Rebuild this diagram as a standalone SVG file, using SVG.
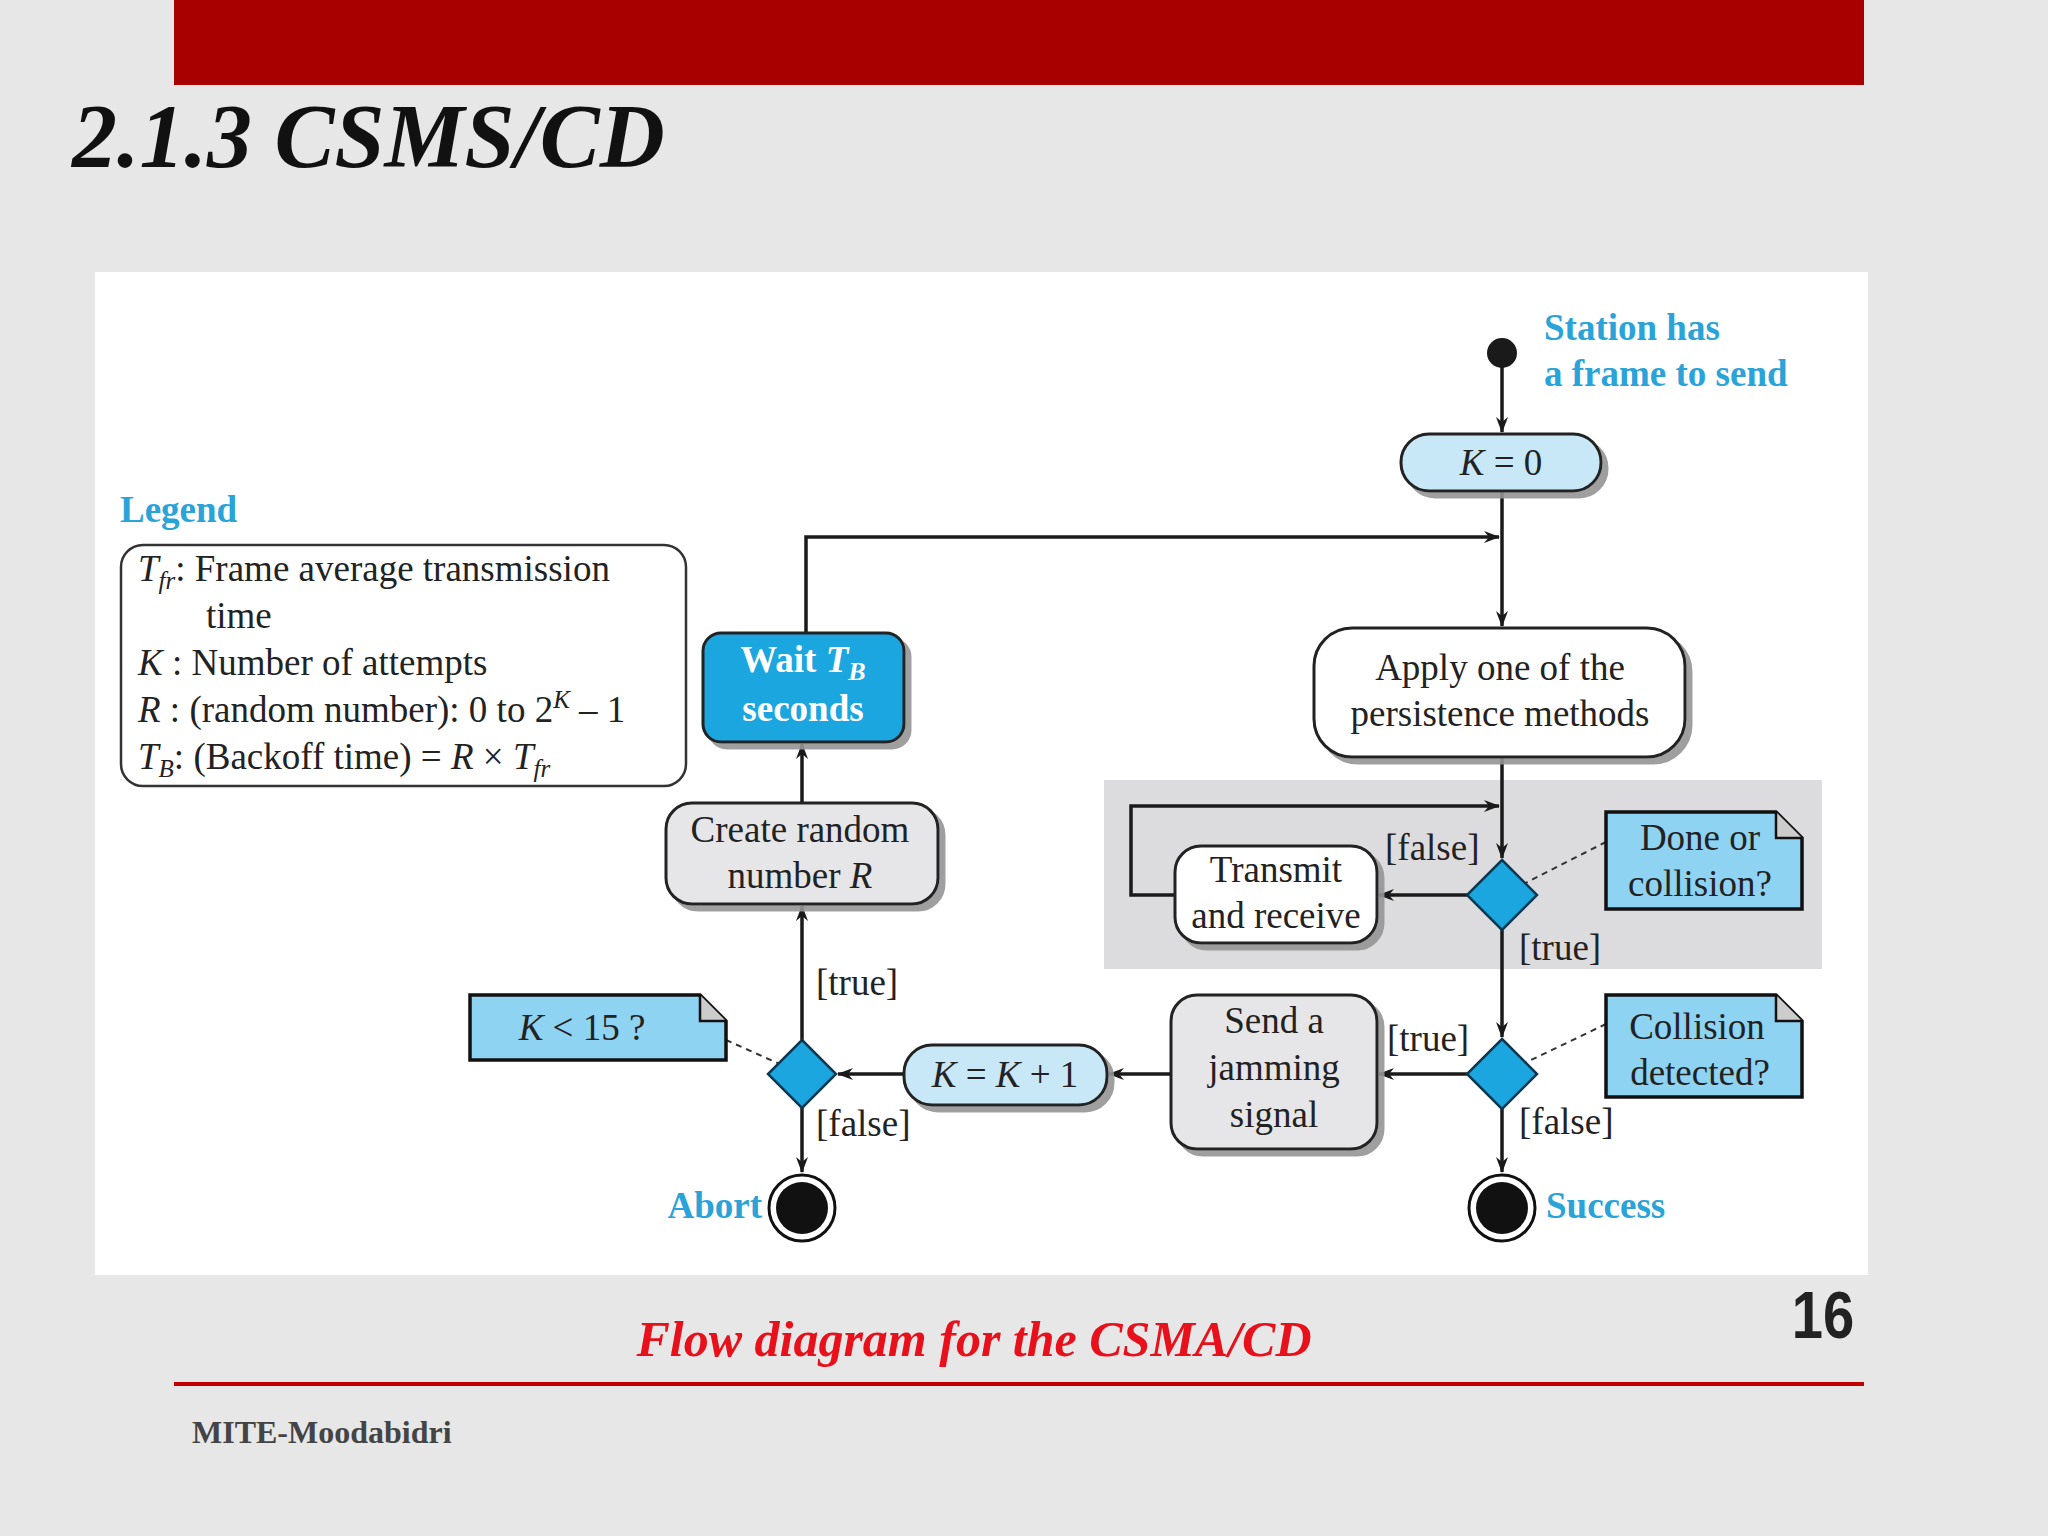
<svg xmlns="http://www.w3.org/2000/svg" width="2048" height="1536" viewBox="0 0 2048 1536">
<defs>
<marker id="ah" markerWidth="16" markerHeight="12" refX="15" refY="6" orient="auto" markerUnits="userSpaceOnUse">
<path d="M0,0 L16,6 L0,12 L5,6 Z" fill="#1a1a1a"/>
</marker>
<filter id="sh" x="-10%" y="-10%" width="130%" height="130%"><feOffset dx="6" dy="6" in="SourceAlpha" result="o"/><feColorMatrix in="o" type="matrix" values="0 0 0 0 0.3  0 0 0 0 0.3  0 0 0 0 0.3  0 0 0 0.9 0"/><feMerge><feMergeNode/><feMergeNode in="SourceGraphic"/></feMerge></filter>
</defs>
<style>
.t{font-family:"Liberation Serif","Times New Roman",serif;font-size:37px;fill:#222}
.c{text-anchor:middle}
.i{font-style:italic}
.b{font-weight:bold}
.blue{fill:#2aa3d8;font-weight:bold}
.box{stroke:#222;stroke-width:3}
.ln{stroke:#1a1a1a;stroke-width:3.5;fill:none}
.dsh{stroke:#333;stroke-width:2;stroke-dasharray:6 5;fill:none}
.note{fill:#8fd3f2;stroke:#111;stroke-width:3.5}
.dia{fill:#1ba6e0;stroke:#0b3850;stroke-width:2.5}
</style>
<rect width="2048" height="1536" fill="#e7e7e8"/>
<rect x="174" y="0" width="1690" height="85" fill="#a80000"/>
<text x="72" y="167" font-family="Liberation Serif, serif" font-size="90" font-weight="bold" font-style="italic" fill="#111">2.1.3 CSMS/CD</text>
<rect x="95" y="272" width="1773" height="1003" fill="#ffffff"/>
<rect x="1104" y="780" width="718" height="189" fill="#dcdcde"/>

<g id="connectors">
<path class="ln" d="M1502,353 V432" marker-end="url(#ah)"/>
<path class="ln" d="M1502,491 V626" marker-end="url(#ah)"/>
<path class="ln" d="M806,633 V537 H1499" marker-end="url(#ah)"/>
<path class="ln" d="M1502,757 V858" marker-end="url(#ah)"/>
<path class="ln" d="M1467,895 H1379" marker-end="url(#ah)"/>
<path class="ln" d="M1175,895 H1131 V806 H1499" marker-end="url(#ah)"/>
<path class="ln" d="M1502,930 V1037" marker-end="url(#ah)"/>
<path class="ln" d="M1467,1074 H1379" marker-end="url(#ah)"/>
<path class="ln" d="M1171,1074 H1109" marker-end="url(#ah)"/>
<path class="ln" d="M904,1074 H838" marker-end="url(#ah)"/>
<path class="ln" d="M802,1040 V906" marker-end="url(#ah)"/>
<path class="ln" d="M802,803 V744" marker-end="url(#ah)"/>
<path class="ln" d="M1502,1109 V1172" marker-end="url(#ah)"/>
<path class="ln" d="M802,1108 V1172" marker-end="url(#ah)"/>
<path class="dsh" d="M1606,842 L1502,895"/>
<path class="dsh" d="M1606,1024 L1502,1074"/>
<path class="dsh" d="M726,1040 L802,1074"/>
<text class="t" x="1385" y="860">[false]</text>
<text class="t" x="1519" y="960">[true]</text>
<text class="t" x="1387" y="1051">[true]</text>
<text class="t" x="1519" y="1134">[false]</text>
<text class="t" x="816" y="995">[true]</text>
<text class="t" x="816" y="1136">[false]</text>
</g>

<g id="start"><circle cx="1502" cy="353" r="15" fill="#1a1a1a"/>
<text class="t blue" x="1544" y="340">Station has</text>
<text class="t blue" x="1544" y="386">a frame to send</text></g>

<g id="k0"><rect class="box" x="1401" y="434" width="200" height="57" rx="28" fill="#c8e8f7" filter="url(#sh)"/>
<text class="t c" x="1501" y="475"><tspan class="i">K</tspan> = 0</text></g>

<g id="apply"><rect class="box" x="1314" y="628" width="371" height="129" rx="38" fill="#fff" filter="url(#sh)"/>
<text class="t c" x="1500" y="680">Apply one of the</text>
<text class="t c" x="1500" y="726">persistence methods</text></g>

<g id="wait"><rect class="box" x="703" y="633" width="201" height="109" rx="18" fill="#1ba6e0" filter="url(#sh)"/>
<text class="t c b" x="803" y="672" style="fill:#fff">Wait <tspan class="i">T</tspan><tspan class="i" font-size="26" dy="8">B</tspan></text>
<text class="t c b" x="803" y="721" style="fill:#fff">seconds</text></g>

<g id="create"><rect class="box" x="666" y="803" width="272" height="101" rx="26" fill="#e6e6e8" filter="url(#sh)"/>
<text class="t c" x="800" y="842">Create random</text>
<text class="t c" x="800" y="888">number <tspan class="i">R</tspan></text></g>

<g id="transmit"><rect class="box" x="1175" y="846" width="202" height="97" rx="26" fill="#fff" filter="url(#sh)"/>
<text class="t c" x="1276" y="882">Transmit</text>
<text class="t c" x="1276" y="928">and receive</text></g>

<g id="d1"><path class="dia" d="M1502,860 L1537,895 L1502,930 L1467,895 Z"/></g>
<g id="n1"><path class="note" d="M1606,812 H1776 L1802,838 V909 H1606 Z"/><path d="M1776,812 V838 H1802" fill="#ccc" stroke="#111" stroke-width="2.5"/>
<text class="t c" x="1700" y="850">Done or</text><text class="t c" x="1700" y="896">collision?</text></g>

<g id="d2"><path class="dia" d="M1502,1039 L1537,1074 L1502,1109 L1467,1074 Z"/></g>
<g id="n2"><path class="note" d="M1606,995 H1776 L1802,1021 V1097 H1606 Z"/><path d="M1776,995 V1021 H1802" fill="#ccc" stroke="#111" stroke-width="2.5"/>
<text class="t c" x="1697" y="1039">Collision</text><text class="t c" x="1700" y="1085">detected?</text></g>

<g id="success"><circle cx="1502" cy="1208" r="33" fill="#fff" stroke="#111" stroke-width="3"/><circle cx="1502" cy="1208" r="26" fill="#111"/>
<text class="t blue" x="1546" y="1218">Success</text></g>

<g id="jam"><rect class="box" x="1171" y="995" width="206" height="154" rx="26" fill="#e6e6e8" filter="url(#sh)"/>
<text class="t c" x="1274" y="1033">Send a</text><text class="t c" x="1274" y="1080">jamming</text><text class="t c" x="1274" y="1127">signal</text></g>

<g id="kinc"><rect class="box" x="904" y="1045" width="203" height="60" rx="28" fill="#c8e8f7" filter="url(#sh)"/>
<text class="t c" x="1005" y="1087"><tspan class="i">K</tspan> = <tspan class="i">K</tspan> + 1</text></g>

<g id="d3"><path class="dia" d="M802,1040 L836,1074 L802,1108 L768,1074 Z"/></g>
<g id="n3"><path class="note" d="M470,995 H700 L726,1021 V1060 H470 Z"/><path d="M700,995 V1021 H726" fill="#ccc" stroke="#111" stroke-width="2.5"/>
<text class="t c" x="582" y="1040"><tspan class="i">K</tspan> &lt; 15 ?</text></g>

<g id="abort"><circle cx="802" cy="1208" r="33" fill="#fff" stroke="#111" stroke-width="3"/><circle cx="802" cy="1208" r="26" fill="#111"/>
<text class="t blue" x="762" y="1218" text-anchor="end">Abort</text></g>

<g id="legend">
<text class="t blue" x="120" y="522">Legend</text>
<rect x="121" y="545" width="565" height="241" rx="22" fill="#fff" stroke="#333" stroke-width="2.5"/>
<text class="t" x="138" y="581" font-size="38"><tspan class="i">T</tspan><tspan class="i" font-size="25" dy="8">fr</tspan><tspan dy="-8">: Frame average transmission</tspan></text>
<text class="t" x="206" y="628" font-size="38">time</text>
<text class="t" x="138" y="675" font-size="38"><tspan class="i">K</tspan> : Number of attempts</text>
<text class="t" x="138" y="722" font-size="38"><tspan class="i">R</tspan> : (random number): 0 to 2<tspan font-size="25" dy="-14" class="i">K</tspan><tspan dy="14"> – 1</tspan></text>
<text class="t" x="138" y="769" font-size="38"><tspan class="i">T</tspan><tspan class="i" font-size="25" dy="8">B</tspan><tspan dy="-8">: (Backoff time) = </tspan><tspan class="i">R</tspan> × <tspan class="i">T</tspan><tspan class="i" font-size="25" dy="8">fr</tspan></text>
</g>

<text x="974" y="1356" text-anchor="middle" font-family="Liberation Serif, serif" font-size="50" font-weight="bold" font-style="italic" fill="#e8101a">Flow diagram for the CSMA/CD</text>
<text x="1823" y="1338" text-anchor="middle" font-family="Liberation Sans Narrow, Liberation Sans, sans-serif" font-size="66" font-weight="bold" fill="#222" transform="translate(1823 0) scale(0.85 1) translate(-1823 0)">16</text>
<rect x="174" y="1382" width="1690" height="4" fill="#c00000"/>
<text x="192" y="1443" font-family="Liberation Serif, serif" font-size="32" font-weight="bold" fill="#444">MITE-Moodabidri</text>
</svg>
